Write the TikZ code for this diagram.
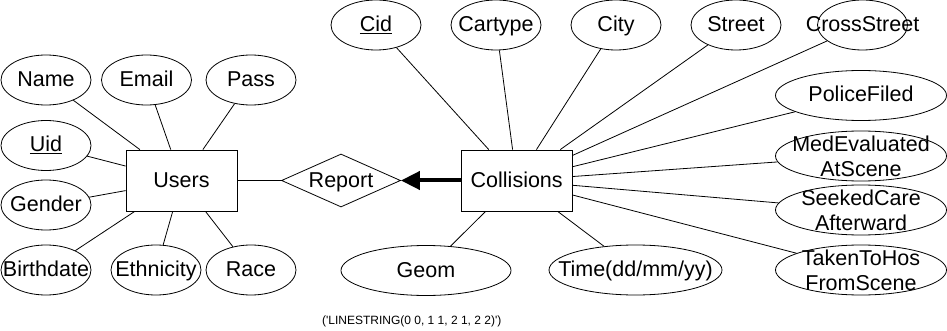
\documentclass[tikz,border=0pt]{standalone}
\usepackage{fontspec}
\setmainfont{Liberation Sans}
\usetikzlibrary{shapes.geometric,arrows.meta}
\begin{document}
\begin{tikzpicture}[x=1pt,y=-1pt,
  every node/.style={font=\fontsize{21.5}{25}\selectfont,
    text height=17pt, text depth=4pt},
  twoline/.style={align=center, text height=, text depth=},
  link/.style={draw, line width=0.8pt},
  entity/.style={rectangle, draw, line width=0.8pt, minimum width=111pt,
    minimum height=61pt, inner sep=0pt},
  attr/.style={ellipse, draw, line width=0.8pt, minimum width=90pt,
    minimum height=50pt, inner sep=0pt},
  wideattr/.style={attr, minimum width=171pt},
  rel/.style={diamond, draw, line width=0.8pt, aspect=2.25,
    minimum width=119pt, minimum height=53pt, inner sep=0pt},
  note/.style={font=\fontsize{12}{14}\selectfont, text height=, text depth=}
]
\useasboundingbox (0,0) rectangle (947,331);

% entities and relationship
\node[entity] (users) at (181.5,180.5) {Users};
\node[entity] (collisions) at (516.7,180.5) {Collisions};
\node[rel] (report) at (341,180.5) {Report};

% attributes of Users
\node[attr, label={center:Name}] (name) at (46,80) {};
\node[attr, label={center:Email}] (email) at (146.5,80) {};
\node[attr, label={center:Pass}] (pass) at (251,80) {};
\node[attr, label={center:\underline{Uid}}] (uid) at (46,145.5) {};
\node[attr, label={center:Gender}] (gender) at (46,205) {};
\node[attr, label={center:Birthdate}] (birthdate) at (46,270) {};
\node[attr, label={center:Ethnicity}] (ethnicity) at (156,270) {};
\node[attr, label={center:Race}] (race) at (251,270) {};

% attributes of Collisions
\node[attr, label={center:\underline{Cid}}] (cid) at (376,25) {};
\node[attr, label={center:Cartype}] (cartype) at (496,25) {};
\node[attr, label={center:City}] (city) at (616,25) {};
\node[attr, label={center:Street}] (street) at (736,25) {};
\node[attr, label={center:CrossStreet}] (cross) at (862.5,25) {};
\node[wideattr, label={center:PoliceFiled}] (police) at (861,95.5) {};
\node[wideattr, label={[twoline]center:{MedEvaluated\\AtScene}}] (medeval) at (861,156) {};
\node[wideattr, label={[twoline]center:{SeekedCare\\Afterward}}] (seeked) at (861,210) {};
\node[wideattr, label={[twoline]center:{TakenToHos\\FromScene}}] (taken) at (861,270) {};
\node[wideattr, minimum width=170pt, label={center:Geom}] (geom) at (426,270.5) {};
\node[wideattr, minimum width=173pt, label={center:Time(dd/mm/yy)}] (time) at (635.5,270) {};

\node[note] (geomnote) at (411.7,321)
  {(\textquotesingle LINESTRING(0 0, 1 1, 2 1, 2 2)\textquotesingle)};

% connectors
\foreach \a in {name,email,pass,uid,gender,birthdate,ethnicity,race}
  \draw[link] (users) -- (\a);
\foreach \a in {cid,cartype,city,street,cross,police,medeval,seeked,taken,geom,time}
  \draw[link] (collisions) -- (\a);
\draw[link] (users) -- (report);
\draw[line width=4pt, -{Triangle[length=19pt,width=18pt]}] (collisions) -- (report);
\end{tikzpicture}
\end{document}
